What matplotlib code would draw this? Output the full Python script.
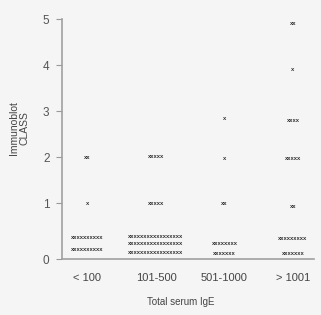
import matplotlib
matplotlib.use("Agg")
import matplotlib.pyplot as plt
from matplotlib import font_manager

names = {f.name for f in font_manager.fontManager.ttflist}
narrow = "Liberation Sans Narrow" if "Liberation Sans Narrow" in names else "Liberation Sans"

categories = ["< 100", "101-500", "501-1000", "> 1001"]
y_ticklabels = ["0", "1", "2", "3", "4", "5"]

# each mark: category index, immunoblot class position, number of 'x'
mark_cat = [0, 0, 0, 0,
            1, 1, 1, 1, 1,
            2, 2, 2, 2, 2,
            3, 3, 3, 3, 3, 3, 3]
mark_class = [2.0, 1.0, 0.26, 0.0,
              2.02, 0.98, 0.28, 0.11, -0.07,
              2.83, 1.96, 0.98, 0.11, -0.09,
              4.91, 3.91, 2.80, 1.96, 0.93, 0.22, -0.09]
mark_count = [2, 1, 10, 10,
              5, 5, 17, 17, 17,
              1, 1, 2, 8, 7,
              2, 1, 4, 5, 2, 9, 7]

BG = "#f5f5f5"
W, H = 321, 315
fig = plt.figure(figsize=(W / 100, H / 100), dpi=100, facecolor=BG)
ax = fig.add_axes([62 / W, (H - 259) / H, (314 - 62) / W, (259 - 19) / H])
ax.set_facecolor(BG)

ymin = -0.217
ax.set_ylim(ymin, 5)
ax.set_xlim(-0.372, 3.307)

for c, v, n in zip(mark_cat, mark_class, mark_count):
    ax.text(c, v, "x" * n, ha="center", va="center", fontsize=4.2,
            family="Liberation Sans", color="#333333", fontweight="bold")

ax.set_yticks([ymin, 1, 2, 3, 4, 5])
ax.set_yticklabels(y_ticklabels, family=narrow, fontsize=8.5, color="#555555")
ax.set_xticks(range(len(categories)))
ax.set_xticklabels(categories, family=narrow, fontsize=8, color="#444444")
ax.tick_params(axis="y", length=4, width=0.8, color="#999999", pad=5)
ax.tick_params(axis="x", length=0, pad=10)
for s in ["top", "right"]:
    ax.spines[s].set_visible(False)
for s in ["left", "bottom"]:
    ax.spines[s].set_color("#a0a0a0")
    ax.spines[s].set_linewidth(1.2)

fig.text(19 / W, 1 - 128 / H, "Immunoblot\nCLASS", rotation=90, ha="center",
         va="center", family=narrow, fontsize=7.5, color="#444444",
         multialignment="center", linespacing=1.1)
fig.text(181 / W, 1 - 302 / H, "Total serum IgE", ha="center", va="center",
         family=narrow, fontsize=7, color="#444444")

fig.savefig("out.png", dpi=100, facecolor=BG)
